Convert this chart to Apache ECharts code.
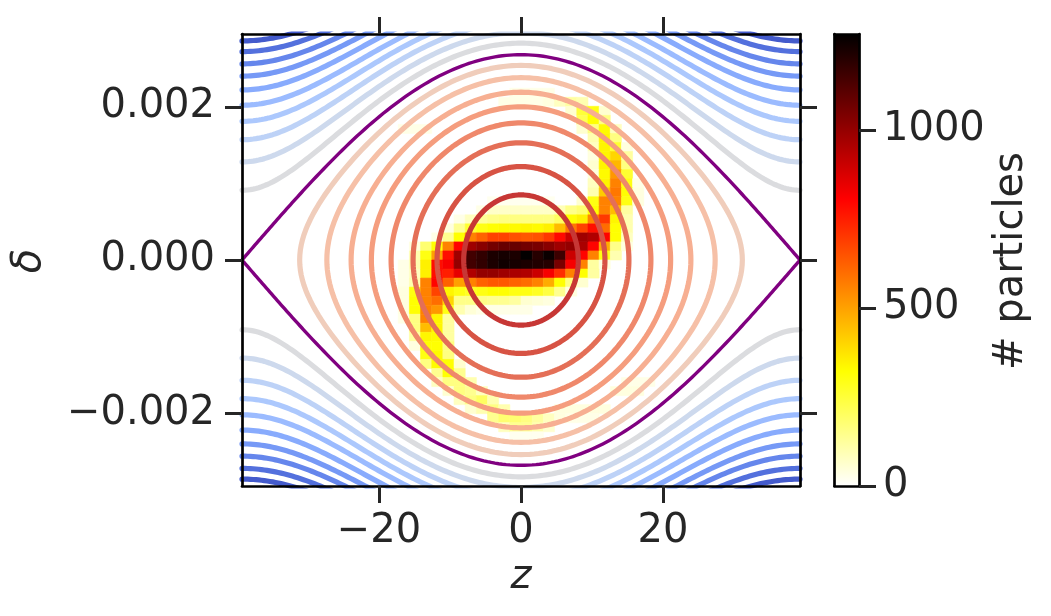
<!DOCTYPE html>
<html><head><meta charset="utf-8">
<script src="https://cdn.jsdelivr.net/npm/echarts@6/dist/echarts.min.js"></script>
<style>html,body{margin:0;padding:0;background:#fff}#c{width:1051px;height:616px}</style>
</head><body><div id="c"></div><script>
// ---------------- data ----------------
const zLimits = [-39.3, 39.3];            // bucket edges (plot x range)
const deltaLimits = [-0.00295, 0.00295];  // plot y range
const zTicks = [-20, 0, 20];
const deltaTicks = [-0.002, 0, 0.002];
const countTicks = [0, 500, 1000];
const countMax = 1270;
const separatrixDelta = 0.00268;          // separatrix height at z = 0
// inner contours: delta at z = 0
const innerContourDelta = [0.00085, 0.00122, 0.00153, 0.00179, 0.00200, 0.00219, 0.00238, 0.00254];
// outer contours: delta at the bucket edges z = +-39.3
const outerContourDelta = [0.00091, 0.00128, 0.00157, 0.00181, 0.00202, 0.00222, 0.00240, 0.00256, 0.00272, 0.00286];
// 2D histogram: 50 x 50 bins over the plot range; rows listed from top (bin row 44) downward,
// columns start at bin column 13
const histBins = 50;
const histFirstCol = 13;
const histTopRow = 44;
const counts = [
 [],
 [0,0,0,0,0,0,0,0,0,0,0,30,30,30,30],
 [0,0,0,0,0,0,0,0,0,0,30,30,30,30,40,80,120,100],
 [0,0,0,0,0,0,0,0,0,0,0,0,0,0,0,0,60,250,300,60],
 [0,0,0,0,0,0,0,0,0,0,0,0,0,0,0,0,0,220,320,160],
 [0,30,30,30,0,0,0,0,0,0,0,0,0,0,0,0,0,60,160,330,80],
 [0,0,0,0,0,0,0,0,0,0,0,0,0,0,0,0,0,0,100,340,160],
 [0,0,0,0,0,0,0,0,0,0,0,0,0,0,0,0,0,0,80,340,260,40],
 [0,0,0,0,0,0,0,0,0,0,0,0,0,0,0,0,0,0,40,340,400,120],
 [0,0,0,0,0,0,0,0,0,0,0,0,0,0,0,0,0,0,60,340,460,160],
 [0,0,0,0,0,0,0,0,0,0,0,0,0,0,0,0,0,0,40,330,520,260],
 [0,0,0,0,0,0,0,0,0,0,0,0,0,0,0,0,0,0,80,340,560,300,30],
 [0,0,0,0,0,0,0,0,0,0,0,0,0,0,0,0,0,0,100,420,580,320,40],
 [0,0,0,0,0,0,0,0,0,20,20,20,20,20,20,0,0,60,300,560,560,300,40],
 [0,0,0,0,0,0,0,0,30,70,70,70,70,70,70,90,150,180,320,560,450,120],
 [0,0,0,0,0,0,30,80,130,150,160,160,160,160,160,200,320,350,550,700,340,100],
 [0,0,0,0,0,40,140,260,300,320,330,330,340,330,350,450,580,680,780,600,320,100],
 [0,0,0,0,30,140,320,560,620,680,680,650,640,650,700,790,900,980,950,800,320,80],
 [0,0,40,180,320,560,800,980,1020,1060,1080,1080,1060,1050,1020,980,1000,960,800,480,150,40],
 [0,0,100,300,500,780,980,1150,1180,1220,1230,1220,1265,1200,1250,1160,900,800,560,300,100],
 [0,30,100,350,780,820,1000,1150,1180,1220,1240,1230,1220,1210,1200,1050,820,560,120,40],
 [0,30,80,350,780,750,850,950,1000,1000,980,960,950,900,820,720,560,320,120],
 [0,30,100,560,800,620,500,560,620,640,640,620,600,560,480,320,160,60],
 [0,40,300,560,680,340,300,280,300,320,320,300,300,280,240,140,40],
 [0,40,320,560,600,400,150,150,150,140,140,120,60,50,40],
 [0,40,320,560,520,300,100,50,30,30,30,30,30],
 [0,30,160,560,340,120],
 [0,0,160,450,340,120],
 [0,0,120,340,330,120],
 [0,0,40,320,320,160],
 [0,0,0,300,330,160],
 [0,0,0,160,330,320,60],
 [0,0,0,0,140,320,140],
 [0,0,0,0,80,160,160,100,0,0,0,0,0,0,0,0,0,0,0,0,0,30,30,30],
 [0,0,0,0,0,60,160,140,80,0,0,0,0,0,0,0,0,0,0,0,40,40,40],
 [0,0,0,0,0,0,80,160,200,100],
 [0,0,0,0,0,0,0,60,100,160,100,0,0,0,0,40,40,40,40,40],
 [0,0,0,0,0,0,0,0,0,140,180,180,160,120,80,40,30,30,30],
 [0,0,0,0,0,0,0,0,0,0,80,140,140,100,60],
 [0,0,0,0,0,0,0,0,0,0,0,20,20,20]
];

// ---------------- styles ----------------
const TEXT = '#262626';
const FONT = 'DejaVu Sans';
const contourColorRange = [-7.3e-6, 8.7e-6];
const coolwarm = [[59,76,192],[68,90,204],[77,104,215],[87,117,225],[98,130,234],[108,142,241],[119,154,247],[130,165,251],[141,176,254],[152,185,255],[163,194,255],[174,201,253],[184,208,249],[194,213,244],[204,217,238],[213,219,230],[221,221,221],[229,216,209],[236,211,197],[241,204,185],[245,196,173],[247,187,160],[247,177,148],[247,166,135],[244,154,123],[241,141,111],[236,127,99],[229,112,88],[222,96,77],[213,80,66],[203,62,56],[192,40,47],[180,4,38]];
function cw(t){ t=Math.max(0,Math.min(1,t)); const p=t*(coolwarm.length-1); const i=Math.min(coolwarm.length-2,Math.floor(p)); const f=p-i;
  const a=coolwarm[i], b=coolwarm[i+1]; return 'rgb('+[0,1,2].map(k=>Math.round(a[k]+(b[k]-a[k])*f)).join(',')+')'; }
function contourColor(H){ const t=(H-contourColorRange[0])/(contourColorRange[1]-contourColorRange[0]); return cw(1-t); }
function hotR(v){ const x=1-Math.min(1,v/countMax);
  const r=Math.min(1,x/0.365079), g=Math.max(0,Math.min(1,(x-0.365079)/0.380953)), b=Math.max(0,Math.min(1,(x-0.746032)/0.253968));
  return 'rgb('+Math.round(r*255)+','+Math.round(g*255)+','+Math.round(b*255)+')'; }

// ---------------- build series ----------------
const L = zLimits[1];
const binW = (zLimits[1]-zLimits[0])/histBins, binH = (deltaLimits[1]-deltaLimits[0])/histBins;
const cells = [];
counts.forEach((row, n) => { const j = histTopRow - n;
  row.forEach((v, m) => { if (v > 0) { const i = histFirstCol + m;
    cells.push([zLimits[0]+i*binW, zLimits[0]+(i+1)*binW, deltaLimits[0]+j*binH, deltaLimits[0]+(j+1)*binH, v]); } }); });

const series = [];
series.push({ type:'custom', xAxisIndex:0, yAxisIndex:0, z:1, silent:true, clip:true, animation:false,
  encode:{x:[0,1], y:[2,3]}, data:cells,
  renderItem(params, api){ const a=api.coord([api.value(0), api.value(3)]), b=api.coord([api.value(1), api.value(2)]);
    const c=hotR(api.value(4));
    return {type:'rect', shape:{x:a[0], y:a[1], width:b[0]-a[0], height:b[1]-a[1]}, style:{fill:c, stroke:c, lineWidth:0.6}}; } });

function lineSeries(pts, color, width, z){ return {type:'line', xAxisIndex:0, yAxisIndex:0, data:pts, showSymbol:false, symbol:'none',
  smooth:false, clip:true, silent:true, animation:false, z:z, lineStyle:{color:color, width:width, cap:'round', join:'round'}}; }

const dm = separatrixDelta;
innerContourDelta.forEach(d0 => { const pts=[]; const N=240;
  for (let s=0; s<=N; s++){ const th=2*Math.PI*s/N; const z=(2*L/Math.PI)*Math.asin((d0/dm)*Math.sin(th)); pts.push([z, d0*Math.cos(th)]); }
  series.push(lineSeries(pts, contourColor(d0*d0-dm*dm), 5.2, 2)); });
outerContourDelta.forEach(de => { const top=[], bot=[]; const N=200;
  for (let s=0; s<=N; s++){ const z=-L+2*L*s/N; const d=Math.sqrt(de*de+dm*dm*Math.pow(Math.cos(Math.PI*z/(2*L)),2)); top.push([z,d]); bot.push([z,-d]); }
  const col=contourColor(de*de); series.push(lineSeries(top, col, 5.2, 2)); series.push(lineSeries(bot, col, 5.2, 2)); });
{ const pts=[]; const N=300;
  for (let s=0; s<=N; s++){ const z=-L+2*L*s/N; pts.push([z, dm*Math.cos(Math.PI*z/(2*L))]); }
  for (let s=N; s>=0; s--){ const z=-L+2*L*s/N; pts.push([z, -dm*Math.cos(Math.PI*z/(2*L))]); }
  series.push(lineSeries(pts, '#800080', 3.4, 3)); }

series.push({ type:'bar', xAxisIndex:2, yAxisIndex:2, data:[countMax], barWidth:'100%', silent:true, animation:false,
  itemStyle:{ color: new echarts.graphic.LinearGradient(0,0,0,1,[{offset:0,color:'#000000'},{offset:0.365079,color:'#ff0000'},{offset:0.746032,color:'#ffff00'},{offset:1,color:'#ffffff'}]) } });

// ---------------- axes ----------------
const frame = {show:true, onZero:false, lineStyle:{color:'#000', width:2.7}};
const ticks = vals => ({show:true, inside:false, length:17, customValues:vals, lineStyle:{color:TEXT, width:3}});
const lab = {fontSize:40, fontFamily:FONT, color:TEXT};
const minus = s => s.replace('-', '\u2212');
const noSplit = {show:false};

const option = {
  backgroundColor:'#fff', animation:false,
  grid:[{left:242, top:34, width:558, height:452, containLabel:false},
        {left:834.5, top:34, width:24.5, height:452, containLabel:false}],
  xAxis:[
    {type:'value', gridIndex:0, position:'bottom', min:zLimits[0], max:zLimits[1], z:10, axisLine:frame, axisTick:ticks(zTicks), splitLine:noSplit,
     axisLabel:Object.assign({customValues:zTicks, margin:26, formatter:v=>minus(String(v))}, lab)},
    {type:'value', gridIndex:0, position:'top', min:zLimits[0], max:zLimits[1], z:10, axisLine:frame, axisTick:ticks(zTicks), splitLine:noSplit,
     axisLabel:{show:false}},
    {type:'category', gridIndex:1, position:'bottom', data:['n'], z:10, axisLine:frame, axisTick:{show:false}, axisLabel:{show:false}, splitLine:noSplit},
    {type:'category', gridIndex:1, position:'top', data:['n'], z:10, axisLine:frame, axisTick:{show:false}, axisLabel:{show:false}, splitLine:noSplit}
  ],
  yAxis:[
    {type:'value', gridIndex:0, position:'left', min:deltaLimits[0], max:deltaLimits[1], z:10, axisLine:frame, axisTick:ticks(deltaTicks), splitLine:noSplit,
     axisLabel:Object.assign({customValues:deltaTicks, margin:27, formatter:v=>minus(v.toFixed(3))}, lab)},
    {type:'value', gridIndex:0, position:'right', min:deltaLimits[0], max:deltaLimits[1], z:10, axisLine:frame, axisTick:ticks(deltaTicks), splitLine:noSplit,
     axisLabel:{show:false}},
    {type:'value', gridIndex:1, position:'right', min:0, max:countMax, z:10, axisLine:frame, axisTick:ticks(countTicks), splitLine:noSplit,
     axisLabel:Object.assign({customValues:countTicks, margin:24, formatter:v=>String(Math.round(v))}, lab)},
    {type:'value', gridIndex:1, position:'left', min:0, max:countMax, z:10, axisLine:frame, axisTick:{show:false}, axisLabel:{show:false}, splitLine:noSplit}
  ],
  graphic:[
    {type:'text', x:30, y:261, rotation:Math.PI/2, style:{text:'\u03b4', font:'italic 40px "DejaVu Sans"', fill:TEXT, textAlign:'center', textVerticalAlign:'middle'}},
    {type:'text', x:521, y:578, style:{text:'z', font:'italic 40px "DejaVu Sans"', fill:TEXT, textAlign:'center', textVerticalAlign:'middle'}},
    {type:'text', x:1012, y:261, rotation:Math.PI/2, style:{text:'# particles', font:'40px "DejaVu Sans"', fill:TEXT, textAlign:'center', textVerticalAlign:'middle'}}
  ],
  series: series
};
const chart = echarts.init(document.getElementById('c'), null, {width:1051, height:616});
chart.setOption(option);
</script></body></html>
